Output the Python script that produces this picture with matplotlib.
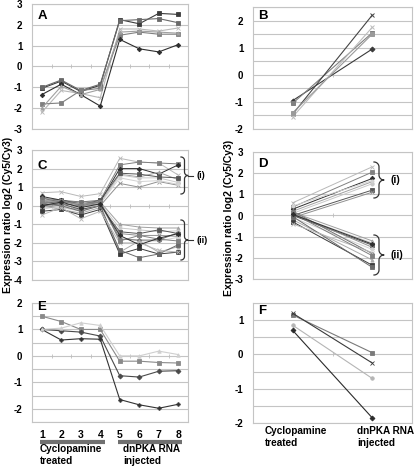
import numpy as np
import matplotlib
matplotlib.use('Agg')
import matplotlib.pyplot as plt
from matplotlib.lines import Line2D

plt.rcParams['font.family'] = ['Liberation Sans', 'DejaVu Sans']
plt.rcParams['font.weight'] = 'bold'

# ---- data ----
time_points = [1, 2, 3, 4, 5, 6, 7, 8]
group_names = ['Cyclopamine\ntreated', 'dnPKA RNA\ninjected']

a_series = [
    [-1.05, -0.70, -1.20, -0.90, 2.25, 2.05, 2.55, 2.50],
    [-1.00, -0.65, -1.15, -0.85, 2.20, 2.25, 2.30, 2.10],
    [-2.20, -1.15, -1.30, -1.50, 1.80, 1.80, 1.70, 1.85],
    [-1.80, -1.75, -1.15, -1.05, 1.50, 1.65, 1.55, 1.55],
    [-1.35, -0.85, -1.35, -1.90, 1.30, 0.85, 0.70, 1.05],
    [-2.00, -0.95, -1.35, -1.10, 1.65, 1.70, 1.65, 1.60],
]
b_series = [
    [-0.95, 0.95],
    [-1.05, 1.55],
    [-1.45, 2.20],
    [-1.55, 1.75],
    [-1.40, 1.50],
]
c_up = [
    [0.70, 0.75, 0.50, 0.65, 2.55, 2.35, 2.30, 1.65],
    [0.40, 0.30, 0.20, 0.30, 2.20, 2.35, 2.30, 2.25],
    [0.50, 0.30, 0.10, 0.20, 2.00, 2.00, 1.70, 2.20],
    [0.30, 0.20, 0.10, 0.15, 1.70, 1.55, 1.80, 1.40],
    [0.20, 0.10, 0.00, 0.10, 1.65, 1.50, 1.50, 1.25],
    [0.10, 0.25, 0.05, 0.30, 1.75, 1.70, 1.55, 1.50],
    [0.00, -0.10, -0.20, 0.00, 1.20, 1.00, 1.30, 1.10],
    [-0.20, 0.00, -0.30, 0.10, 1.50, 1.30, 1.35, 1.15],
]
c_down = [
    [0.30, 0.20, 0.10, 0.20, -1.00, -1.15, -1.20, -1.20],
    [0.10, 0.00, -0.10, 0.10, -1.20, -1.30, -1.40, -1.35],
    [0.00, 0.10, -0.20, 0.00, -1.40, -1.50, -1.30, -1.50],
    [0.20, 0.30, 0.00, 0.10, -1.50, -1.60, -1.60, -1.65],
    [-0.10, -0.10, -0.30, 0.00, -1.70, -1.90, -1.90, -1.70],
    [0.40, 0.20, 0.20, 0.20, -1.80, -1.85, -1.85, -1.45],
    [0.00, -0.20, -0.40, -0.10, -2.50, -1.90, -2.50, -2.20],
    [-0.30, -0.20, -0.50, -0.20, -2.60, -2.30, -2.60, -2.50],
    [0.10, 0.00, -0.30, 0.00, -2.40, -2.80, -2.60, -2.10],
    [-0.50, -0.10, -0.70, -0.30, -2.00, -2.00, -2.40, -2.50],
    [0.20, 0.10, 0.00, 0.20, -1.90, -1.60, -1.80, -1.90],
    [0.00, 0.20, -0.10, 0.10, -1.60, -2.10, -1.75, -1.50],
]
d_up = [
    [0.60, 2.30], [0.40, 2.05], [0.30, 1.75], [0.20, 1.60],
    [0.10, 1.50], [0.00, 1.20], [-0.10, 1.10], [0.45, 1.65],
]
d_down = [
    [0.15, -1.20], [0.05, -1.30], [0.00, -1.40], [0.10, -1.50],
    [-0.10, -1.60], [0.20, -1.80], [-0.20, -2.10], [-0.30, -2.35],
    [-0.05, -2.45], [-0.40, -1.75], [0.10, -1.90], [0.05, -1.35],
]
e_series = [
    [1.50, 1.30, 1.00, 1.00, -0.20, -0.20, -0.25, -0.27],
    [1.00, 0.95, 0.90, 0.75, -0.75, -0.80, -0.58, -0.56],
    [1.00, 0.60, 0.65, 0.63, -1.65, -1.85, -1.98, -1.83],
    [1.00, 1.05, 1.25, 1.15, 0.00, 0.00, 0.18, 0.05],
]
f_series = [
    [1.15, 0.05],
    [1.20, -0.25],
    [0.85, -0.70],
    [0.70, -1.85],
]

# ---- styles ----
greys = ['#3c3c3c', '#6a6a6a', '#b8b8b8', '#808080', '#2e2e2e', '#a0a0a0',
         '#c8c8c8', '#565656', '#909090', '#d2d2d2', '#747474', '#aaaaaa']
marks = ['s', 's', 'x', 's', 'D', '^', 'o', 's', 'x', 'o', 'D', '^']
grid_col = '#c4c4c4'

W, H = 415, 469
fig = plt.figure(figsize=(W / 100, H / 100), dpi=100)


def px_axes(l, t, r, b):
    return fig.add_axes([l / W, 1 - b / H, (r - l) / W, (b - t) / H])


def style(ax, ylim, step, label_step, ncat, letter, ly):
    ax.set_xlim(0.5, ncat + 0.5)
    ax.set_ylim(*ylim)
    ax.set_yticks(np.arange(ylim[0], ylim[1] + 0.01, step))
    labels = []
    for v in np.arange(ylim[0], ylim[1] + 0.01, step):
        labels.append(f'{int(round(v))}' if abs(v / label_step - round(v / label_step)) < 1e-6 else '')
    ax.set_yticklabels(labels)
    ax.tick_params(axis='y', length=0, pad=7, labelsize=7)
    ax.set_xticks([])
    ax.grid(axis='y', color=grid_col, lw=0.8)
    ax.set_axisbelow(True)
    for s in ax.spines.values():
        s.set_color(grid_col)
        s.set_linewidth(0.8)
    # little category ticks on the zero line
    bounds = np.arange(1.5, ncat, 1.0)
    ax.plot(bounds, np.zeros_like(bounds), ls='none', marker='|', ms=2.5,
            color='#bdbdbd', mew=0.6)
    ax.text(0.035, ly, letter, transform=ax.transAxes, fontsize=9.5,
            fontweight='bold', va='top', ha='left')


def draw(ax, x, series, offset=0, lw=0.8):
    for i, s in enumerate(series):
        k = (i + offset) % len(greys)
        ax.plot(x, s, color=greys[k], lw=lw, marker=marks[k], ms=2.3,
                mew=0.6, zorder=3)


axA = px_axes(32, 4, 188, 129)
style(axA, (-3, 3), 1, 1, 8, 'A', 0.95)
draw(axA, time_points, a_series)

axB = px_axes(253, 7, 412, 129)
style(axB, (-2, 2.5), 0.5, 1, 2, 'B', 0.975)
b_cols = ['#3a3a3a', '#808080', '#444444', '#bcbcbc', '#9a9a9a']
b_marks = ['D', 's', 'x', 'x', 's']
for s, c, m in zip(b_series, b_cols, b_marks):
    axB.plot([1, 2], s, color=c, lw=0.8, marker=m, ms=2.5, mew=0.7, zorder=3)

axC = px_axes(32, 150, 188, 280)
style(axC, (-4, 3), 1, 1, 8, 'C', 0.92)
draw(axC, time_points, c_up, offset=2, lw=0.7)
draw(axC, time_points, c_down, offset=5, lw=0.7)

axD = px_axes(253, 152, 412, 279)
style(axD, (-3, 3), 1, 1, 2, 'D', 0.95)
draw(axD, [1, 2], d_up, offset=2, lw=0.7)
draw(axD, [1, 2], d_down, offset=5, lw=0.7)

axE = px_axes(32, 303, 188, 422)
style(axE, (-2.5, 2), 0.5, 1, 8, 'E', 1.02)
e_cols = ['#8a8a8a', '#4a4a4a', '#333333', '#cfcfcf']
e_marks = ['s', 'D', 'P', '^']
for s, c, m in zip(e_series, e_cols, e_marks):
    axE.plot(time_points, s, color=c, lw=0.8, marker=m, ms=2.5, mew=0.6, zorder=3)
axE.set_xticks(time_points)
axE.set_xticklabels([str(t) for t in time_points])
axE.tick_params(axis='x', length=0, pad=6, labelsize=7.5)

axF = px_axes(253, 303, 412, 423)
style(axF, (-2, 1.5), 0.5, 1, 2, 'F', 0.98)
f_cols = ['#7a7a7a', '#3a3a3a', '#b5b5b5', '#2a2a2a']
f_marks = ['s', 'x', 'o', 'D']
for s, c, m in zip(f_series, f_cols, f_marks):
    axF.plot([1, 2], s, color=c, lw=0.8, marker=m, ms=2.5, mew=0.6, zorder=3)

# group bars and labels under E
for x0, x1 in [(40, 105), (118, 182)]:
    fig.add_artist(Line2D([x0 / W, x1 / W], [1 - 442 / H] * 2, color='#707070',
                          lw=3, transform=fig.transFigure, solid_capstyle='butt'))
fig.text(40 / W, 1 - 444 / H, group_names[0], fontsize=7.2, va='top', ha='left',
         linespacing=1.3)
fig.text(123 / W, 1 - 444 / H, group_names[1], fontsize=7.2, va='top', ha='left',
         linespacing=1.3)
fig.text(265 / W, 1 - 426 / H, group_names[0], fontsize=7.2, va='top', ha='left',
         linespacing=1.3)
fig.text(357 / W, 1 - 426 / H, group_names[1], fontsize=7.2, va='top', ha='left',
         linespacing=1.3)

# y labels
ylab = 'Expression ratio log2 (Cy5/Cy3)'
fig.text(8 / W, 1 - 215 / H, ylab, rotation=90, fontsize=7.5, va='center', ha='center')
fig.text(229 / W, 1 - 218 / H, ylab, rotation=90, fontsize=7.5, va='center', ha='center')


def brace(x, y0, y1, w, lab, lx, fs, tail=0):
    # curly bracket built from four quarter arcs, in pixel coords
    r = w / 2.0
    ym = (y0 + y1) / 2.0
    t = np.linspace(0, np.pi / 2, 15)
    xs = np.concatenate([x + r * np.sin(t), x + r + r * (1 - np.cos(t)),
                         (x + r + r * (1 - np.cos(t)))[::-1], (x + r * np.sin(t))[::-1]])
    ys = np.concatenate([y0 + r * (1 - np.cos(t)), ym - r + r * np.sin(t),
                         ym + r - r * np.sin(t)[::-1], (y1 - r * (1 - np.cos(t)))[::-1]])
    fig.add_artist(Line2D(xs / W, 1 - ys / H, color='#333333', lw=0.9,
                          transform=fig.transFigure))
    if tail:
        fig.add_artist(Line2D([(x + w) / W, (x + w + tail) / W], [1 - ym / H] * 2,
                              color='#333333', lw=0.8, transform=fig.transFigure))
    fig.text(lx / W, 1 - ym / H, lab, fontsize=fs, va='center', ha='left')


brace(181, 157, 194, 7, '(i)', 196, 6.5, tail=5)
brace(181, 220, 260, 7, '(ii)', 196, 6.5, tail=5)
brace(374, 162, 198, 10, '(i)', 390, 7.5)
brace(374, 235, 275, 10, '(ii)', 390, 7.5)

fig.savefig('out.png', dpi=100)
